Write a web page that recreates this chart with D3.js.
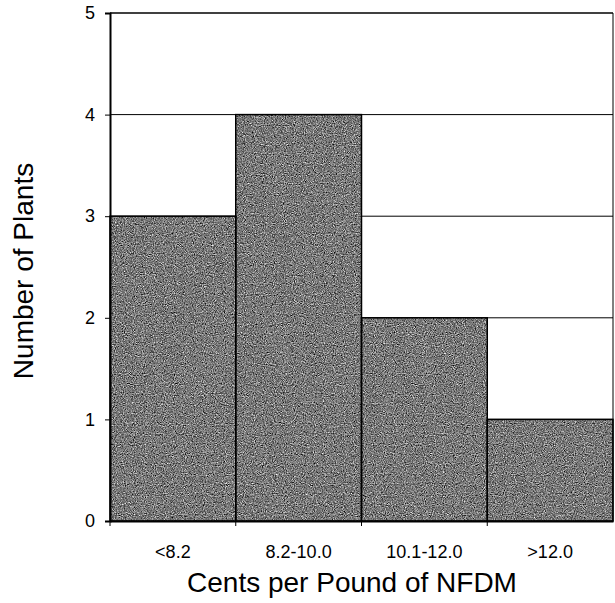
<!DOCTYPE html>
<html><head><meta charset="utf-8">
<script src="https://cdn.jsdelivr.net/npm/d3@7"></script>
<style>body{margin:0;background:#fff}svg{display:block}text{font-family:"Liberation Sans",Arial,sans-serif;fill:#000}</style>
</head><body>
<script>
const categories = ["<8.2", "8.2-10.0", "10.1-12.0", ">12.0"];
const counts = [3, 4, 2, 1];
const yTicks = [0, 1, 2, 3, 4, 5];

const W = 615, H = 603;
const m = {left: 110, right: 2, top: 13, bottom: 82};
const svg = d3.select("body").append("svg").attr("width", W).attr("height", H);

// grainy fill filter
const defs = svg.append("defs");
const f = defs.append("filter").attr("id", "grain").attr("x", 0).attr("y", 0).attr("width", 1).attr("height", 1)
  .attr("color-interpolation-filters", "sRGB");
f.append("feTurbulence").attr("type", "fractalNoise").attr("baseFrequency", 0.9).attr("numOctaves", 2).attr("seed", 4).attr("result", "n");
f.append("feColorMatrix").attr("in", "n").attr("type", "matrix")
  .attr("values", "0.33 0.33 0.33 0 0  0.33 0.33 0.33 0 0  0.33 0.33 0.33 0 0  0 0 0 0 1").attr("result", "g");
const ct = f.append("feComponentTransfer").attr("in", "g").attr("result", "c");
["feFuncR", "feFuncG", "feFuncB"].forEach(t => ct.append(t).attr("type", "linear").attr("slope", 2.0).attr("intercept", -0.52));
f.append("feComposite").attr("in", "c").attr("in2", "SourceGraphic").attr("operator", "in");

const x = d3.scaleBand().domain(categories).range([m.left, W - m.right]).padding(0);
const y = d3.scaleLinear().domain([0, 5]).range([H - m.bottom, m.top]);

// gridlines
svg.append("g").selectAll("line").data(yTicks.slice(1, 5)).join("line")
  .attr("x1", m.left).attr("x2", W - m.right)
  .attr("y1", d => y(d)).attr("y2", d => y(d))
  .attr("stroke", "#000").attr("stroke-width", 1);

// bars (grain fill + outline)
const bars = svg.append("g");
bars.selectAll("rect.fill").data(counts).join("rect").attr("class", "fill")
  .attr("x", (d, i) => x(categories[i]))
  .attr("y", d => y(d))
  .attr("width", x.bandwidth())
  .attr("height", d => y(0) - y(d))
  .attr("fill", "#707070")
  .attr("filter", "url(#grain)");
bars.selectAll("rect.outline").data(counts).join("rect").attr("class", "outline")
  .attr("x", (d, i) => x(categories[i]))
  .attr("y", d => y(d))
  .attr("width", x.bandwidth())
  .attr("height", d => y(0) - y(d))
  .attr("fill", "none")
  .attr("stroke", "#000").attr("stroke-width", 1.5);

// frame top/right
svg.append("line").attr("x1", m.left).attr("x2", W - m.right).attr("y1", y(5)).attr("y2", y(5)).attr("stroke", "#000").attr("stroke-width", 1.5);
svg.append("line").attr("x1", W - m.right).attr("x2", W - m.right).attr("y1", y(5)).attr("y2", y(0)).attr("stroke", "#000").attr("stroke-width", 1);

// y axis
const yAxis = svg.append("g").attr("transform", `translate(${m.left},0)`)
  .call(d3.axisLeft(y).tickValues(yTicks).tickFormat(d3.format("d")).tickSize(5).tickPadding(10));
yAxis.select(".domain").attr("stroke-width", 2);
yAxis.selectAll("text").attr("font-size", 18).attr("font-family", "Liberation Sans, Arial, sans-serif");

// x axis
const xAxis = svg.append("g").attr("transform", `translate(0,${y(0)})`)
  .call(d3.axisBottom(x).tickSize(0).tickPadding(24));
xAxis.select(".domain").attr("stroke-width", 2);
xAxis.selectAll("text").attr("font-size", 18).attr("font-family", "Liberation Sans, Arial, sans-serif");
// tick marks at band boundaries
const bounds = categories.map(c => x(c));
xAxis.append("g").selectAll("line").data(bounds).join("line")
  .attr("x1", d => d).attr("x2", d => d).attr("y1", 0).attr("y2", 5).attr("stroke", "#000");

// titles
svg.append("text").attr("x", 352).attr("y", 592).attr("text-anchor", "middle")
  .attr("font-size", 28).text("Cents per Pound of NFDM");
svg.append("text").attr("transform", `translate(33,${(y(0) + y(5)) / 2 + 4}) rotate(-90)`).attr("text-anchor", "middle")
  .attr("font-size", 28).text("Number of Plants");
</script>
</body></html>
